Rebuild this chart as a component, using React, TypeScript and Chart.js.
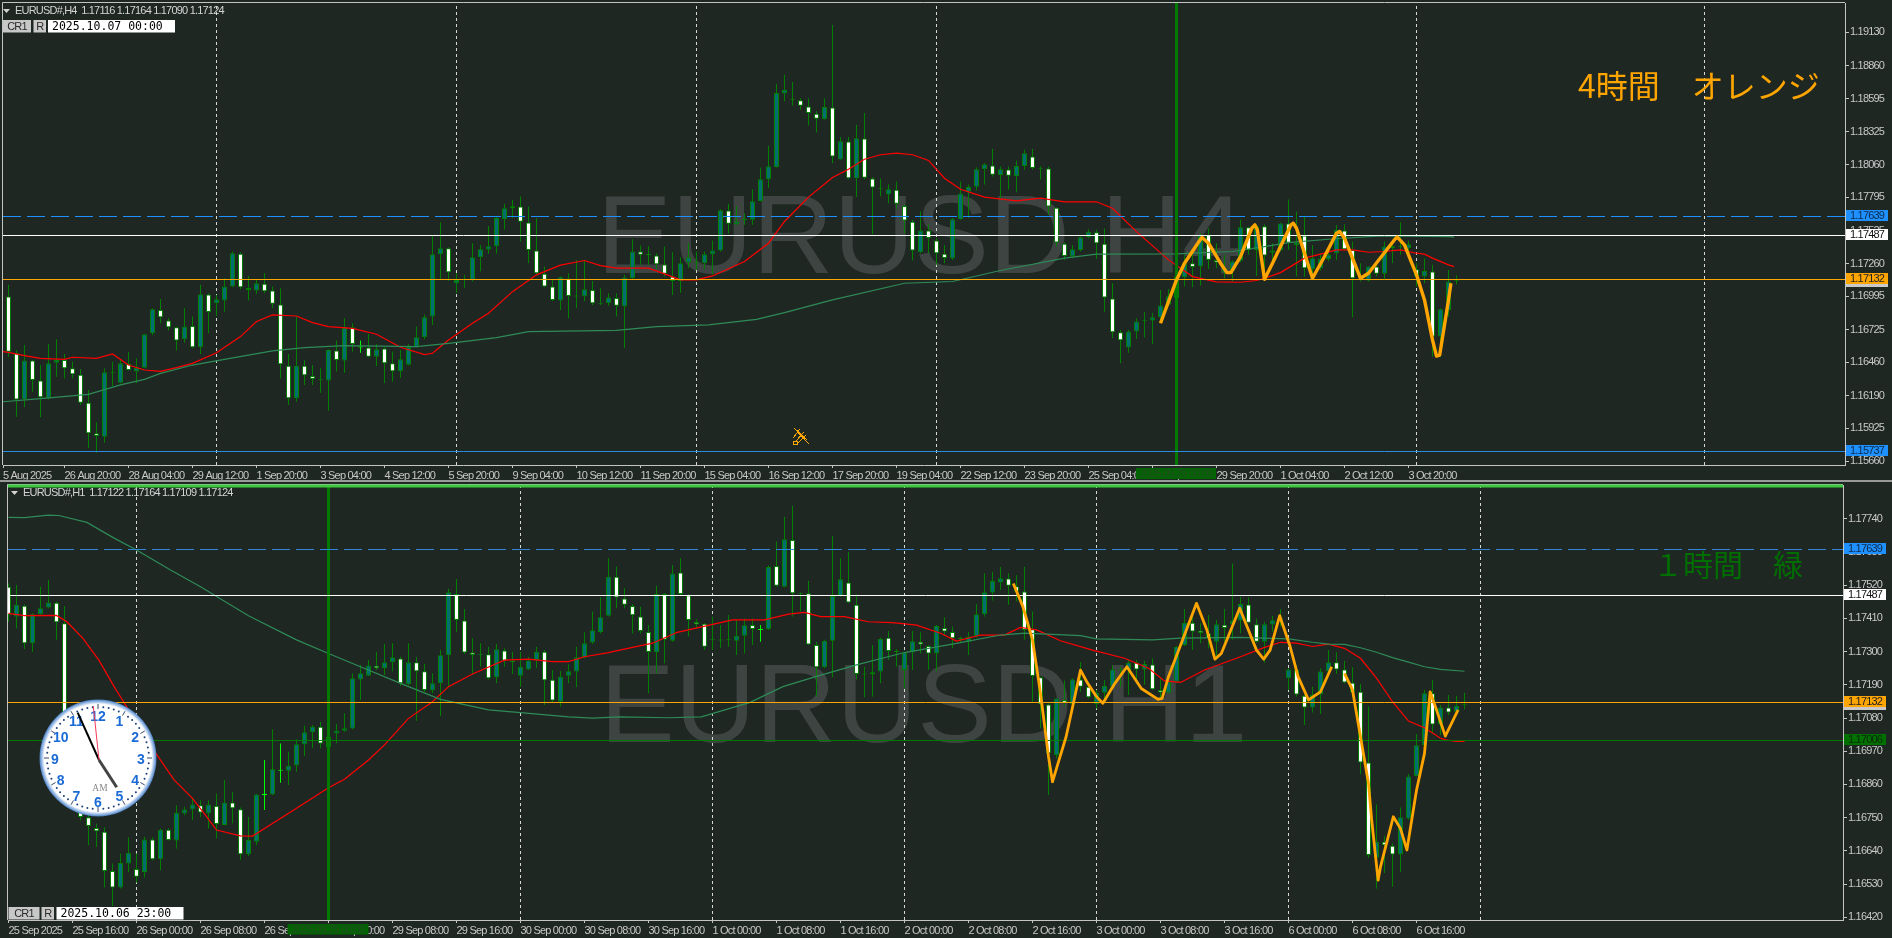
import React, { useEffect, useRef } from "react";
import { Chart, registerables } from "chart.js";
Chart.register(...registerables);

const h4Open = [1.16992,1.16533,1.16160,1.16474,1.16312,1.16170,1.16457,1.16479,1.16411,1.16360,
1.16133,1.15885,1.15858,1.16376,1.16295,1.16447,1.16385,1.16417,1.16695,1.16884,
1.16798,1.16744,1.16646,1.16754,1.16582,1.17008,1.16938,1.16960,1.17073,1.17338,
1.17062,1.17041,1.17095,1.17041,1.16927,1.16433,1.16169,1.16433,1.16349,1.16314,
1.16312,1.16555,1.16474,1.16744,1.16580,1.16579,1.16506,1.16571,1.16452,1.16387,
1.16441,1.16587,1.16663,1.16830,1.17335,1.17384,1.17100,1.17127,1.17127,1.17311,
1.17373,1.17400,1.17618,1.17707,1.17721,1.17591,1.17365,1.17176,1.17073,1.16960,
1.17138,1.16992,1.16995,1.17046,1.16930,1.16938,1.16981,1.16911,1.17141,1.17357,
1.17328,1.17324,1.17251,1.17154,1.17119,1.17268,1.17262,1.17262,1.17335,1.17365,
1.17689,1.17578,1.17611,1.17613,1.17764,1.17942,1.18040,1.18636,1.18593,1.18580,
1.18531,1.18472,1.18428,1.18523,1.18102,1.18247,1.17950,1.18272,1.17948,1.17865,
1.17821,1.17856,1.17726,1.17597,1.17351,1.17527,1.17446,1.17338,1.17300,1.17618,
1.17840,1.17880,1.18023,1.18053,1.17975,1.18021,1.17967,1.18048,1.18126,1.18027,
1.18029,1.17710,1.17419,1.17316,1.17370,1.17473,1.17513,1.17419,1.16976,1.16703,
1.16579,1.16709,1.16792,1.16798,1.16825,1.16925,1.16981,1.17149,1.17262,1.17235,
1.17491,1.17289,1.17186,1.17203,1.17281,1.17554,1.17370,1.17562,1.17346,1.17365,
1.17584,1.17410,1.17486,1.17216,1.17222,1.17297,1.17343,1.17527,1.17370,1.17138,
1.17122,1.17235,1.17176,1.17384,1.17392,1.17384,1.17214,1.17154,1.17195,1.16668,
1.16884,1.17116];
const h4High = [1.17087,1.16560,1.16600,1.16479,1.16438,1.16609,1.16646,1.16528,1.16465,1.16406,
1.16236,1.15974,1.16411,1.16465,1.16484,1.16546,1.16492,1.16690,1.16897,1.16973,
1.16816,1.16749,1.16897,1.16830,1.17087,1.17019,1.17005,1.17140,1.17357,1.17348,
1.17159,1.17127,1.17181,1.17073,1.17060,1.16528,1.16830,1.16479,1.16438,1.16411,
1.16565,1.16636,1.16816,1.16776,1.16636,1.16690,1.16609,1.16582,1.16546,1.16560,
1.16609,1.16749,1.16844,1.17483,1.17594,1.17392,1.17181,1.17168,1.17424,1.17410,
1.17564,1.17640,1.17743,1.17775,1.17802,1.17721,1.17627,1.17235,1.17132,1.17154,
1.17181,1.17289,1.17289,1.17119,1.17060,1.17019,1.17019,1.17168,1.17456,1.17405,
1.17400,1.17343,1.17397,1.17351,1.17311,1.17424,1.17357,1.17357,1.17445,1.17699,
1.17743,1.17726,1.17667,1.17861,1.18034,1.18212,1.18715,1.18788,1.18728,1.18598,
1.18598,1.18491,1.18598,1.19192,1.18283,1.18283,1.18382,1.18477,1.17959,1.17948,
1.17902,1.17923,1.17735,1.17613,1.17683,1.17578,1.17465,1.17410,1.17627,1.17923,
1.17899,1.18037,1.18072,1.18188,1.18045,1.18045,1.18094,1.18180,1.18188,1.18045,
1.18045,1.17716,1.17429,1.17410,1.17478,1.17537,1.17532,1.17543,1.17100,1.16722,
1.16722,1.16816,1.16870,1.16862,1.17046,1.17054,1.17195,1.17330,1.17330,1.17505,
1.17545,1.17424,1.17330,1.17284,1.17616,1.17559,1.17575,1.17575,1.17424,1.17589,
1.17778,1.17680,1.17640,1.17410,1.17343,1.17400,1.17572,1.17578,1.17437,1.17262,
1.17240,1.17278,1.17437,1.17408,1.17594,1.17445,1.17262,1.17303,1.17249,1.16897,
1.17208,1.17164];
const h4Low = [1.16506,1.16020,1.16096,1.16222,1.16015,1.16160,1.16344,1.16330,1.16330,1.16115,
1.15764,1.15728,1.15809,1.16268,1.16290,1.16393,1.16290,1.16411,1.16681,1.16776,
1.16717,1.16555,1.16619,1.16573,1.16528,1.16695,1.16835,1.16870,1.17068,1.17051,
1.16960,1.17014,1.17019,1.16897,1.16330,1.16115,1.16141,1.16277,1.16277,1.16214,
1.16069,1.16385,1.16376,1.16546,1.16538,1.16500,1.16430,1.16290,1.16303,1.16336,
1.16435,1.16582,1.16646,1.16763,1.17132,1.17121,1.17024,1.17060,1.17114,1.17195,
1.17338,1.17338,1.17532,1.17627,1.17437,1.17262,1.17168,1.17068,1.16957,1.16884,
1.16816,1.16897,1.16954,1.16924,1.16924,1.16917,1.16830,1.16573,1.17132,1.17249,
1.17249,1.17213,1.17154,1.17005,1.17024,1.17222,1.17208,1.17213,1.17168,1.17357,
1.17502,1.17573,1.17573,1.17573,1.17762,1.17869,1.18034,1.18572,1.18536,1.18504,
1.18377,1.18320,1.18423,1.18072,1.18099,1.17942,1.17797,1.17942,1.17497,1.17802,
1.17748,1.17700,1.17505,1.17284,1.17343,1.17343,1.17249,1.17262,1.17289,1.17613,
1.17627,1.17853,1.17899,1.17964,1.17775,1.17856,1.17837,1.18018,1.18018,1.17940,
1.17654,1.17397,1.17289,1.17303,1.17357,1.17465,1.17297,1.16870,1.16654,1.16452,
1.16538,1.16649,1.16660,1.16609,1.16790,1.16914,1.16976,1.17073,1.17068,1.17081,
1.17216,1.17222,1.17140,1.17114,1.17270,1.17330,1.17159,1.17154,1.17265,1.17357,
1.17370,1.17154,1.17151,1.17127,1.17203,1.17278,1.17289,1.17370,1.16825,1.17114,
1.17114,1.17154,1.17132,1.17262,1.17330,1.17343,1.17073,1.17100,1.16506,1.16506,
1.16830,1.17090];
const h4Close = [1.16546,1.16160,1.16474,1.16317,1.16177,1.16452,1.16479,1.16411,1.16363,1.16133,
1.15885,1.15863,1.16379,1.16379,1.16452,1.16398,1.16417,1.16687,1.16889,1.16825,
1.16744,1.16636,1.16749,1.16582,1.17011,1.16868,1.16970,1.17073,1.17343,1.17068,
1.17046,1.17100,1.17035,1.16933,1.16444,1.16169,1.16433,1.16355,1.16325,1.16322,
1.16560,1.16479,1.16738,1.16609,1.16584,1.16506,1.16565,1.16452,1.16387,1.16484,
1.16587,1.16663,1.16825,1.17335,1.17384,1.17189,1.17127,1.17130,1.17311,1.17375,
1.17400,1.17627,1.17707,1.17724,1.17597,1.17370,1.17181,1.17073,1.16965,1.17149,
1.16997,1.16995,1.17051,1.16938,1.16938,1.16984,1.16917,1.17146,1.17357,1.17330,
1.17332,1.17254,1.17176,1.17119,1.17262,1.17311,1.17266,1.17335,1.17365,1.17691,
1.17581,1.17600,1.17615,1.17764,1.17942,1.18047,1.18639,1.18663,1.18585,1.18536,
1.18477,1.18431,1.18526,1.18126,1.18250,1.17950,1.18274,1.17953,1.17875,1.17869,
1.17861,1.17743,1.17607,1.17365,1.17527,1.17467,1.17343,1.17305,1.17618,1.17826,
1.17878,1.18023,1.18064,1.17978,1.18023,1.17970,1.18048,1.18153,1.18032,1.18031,
1.17721,1.17429,1.17321,1.17375,1.17473,1.17516,1.17424,1.16984,1.16703,1.16638,
1.16709,1.16790,1.16796,1.16825,1.16919,1.16995,1.17154,1.17262,1.17232,1.17491,
1.17289,1.17268,1.17222,1.17276,1.17554,1.17370,1.17562,1.17324,1.17365,1.17584,
1.17427,1.17429,1.17222,1.17303,1.17297,1.17332,1.17532,1.17376,1.17140,1.17149,
1.17235,1.17176,1.17397,1.17400,1.17400,1.17416,1.17154,1.17200,1.16668,1.16889,
1.17114,1.17124];
const h4LimeBars = [44];

const h4RedBars = [-0.7,0,2,4,7,8,11,13,15,17,19,21,23,26,29,31,33,36,38,40,43,46,49,52,53,55,58,60,63,66,69,72,74,76,80,82,84,86,88,92,95,97,100,103,105,107,109,111,113,115,117,119,122,126,129,132,136,138,141,145,148,151,154,156,157,159,162,164,166,168,170,172,174,176,177,178,180,180.7];
const h4RedValues = [1.16546,1.16541,1.16514,1.16492,1.16484,1.16501,1.16492,1.16528,1.16438,1.16398,1.16387,1.16417,1.16452,1.16538,1.16668,1.16790,1.16844,1.16835,1.16781,1.16749,1.16735,1.16687,1.16582,1.16522,1.16533,1.16641,1.16776,1.16857,1.17032,1.17168,1.17246,1.17284,1.17243,1.17222,1.17222,1.17176,1.17127,1.17127,1.17159,1.17276,1.17424,1.17600,1.17797,1.17956,1.18023,1.18104,1.18140,1.18153,1.18140,1.18094,1.17950,1.17861,1.17797,1.17767,1.17788,1.17759,1.17759,1.17707,1.17518,1.17289,1.17154,1.17111,1.17108,1.17122,1.17140,1.17186,1.17303,1.17335,1.17370,1.17370,1.17351,1.17357,1.17370,1.17343,1.17335,1.17303,1.17249,1.17235];
const h4GreenBars = [-0.7,4,10,14,17,19,23,27,33,37,42,51,55,61,65,76,81,87.5,93.5,97,103,112,118,124,132,136,146,148,153,157,160,165,170,172,180,180.7];
const h4GreenValues = [1.16141,1.16166,1.16201,1.16277,1.16322,1.16371,1.16438,1.16484,1.16552,1.16579,1.16595,1.16587,1.16614,1.16660,1.16708,1.16719,1.16749,1.16763,1.16808,1.16862,1.16965,1.17100,1.17114,1.17203,1.17303,1.17335,1.17338,1.17343,1.17357,1.17397,1.17429,1.17456,1.17478,1.17483,1.17478,1.17473];
const h4ZigzagBars = [144,146,147,149,149.2,150,151.5,152.3,152.8,154,155.4,155.8,156.1,157,158,159,160.3,160.6,161,163,164.5,166,166.4,167,169,170,173.3,173.6,174.5,176,177,178,178.5,178.9,180,180.3];
const h4ZigzagValues = [1.16776,1.17127,1.17262,1.17456,1.17470,1.17424,1.17262,1.17186,1.17186,1.17316,1.17545,1.17572,1.17532,1.17132,1.17262,1.17397,1.17572,1.17586,1.17545,1.17140,1.17316,1.17505,1.17519,1.17465,1.17140,1.17181,1.17456,1.17473,1.17410,1.17168,1.16965,1.16641,1.16511,1.16519,1.16965,1.17100];

const h1Open = [1.17515,1.17416,1.17452,1.17328,1.17424,1.17446,1.17462,1.17394,1.17018,1.16841,
1.16751,1.16716,1.16703,1.16573,1.16519,1.16598,1.16580,1.16570,1.16678,1.16612,
1.16710,1.16674,1.16764,1.16777,1.16791,1.16764,1.16789,1.16726,1.16800,1.16778,
1.16629,1.16670,1.16825,1.16827,1.16905,1.16905,1.16923,1.16993,1.17033,1.17051,
1.16983,1.17029,1.17038,1.17045,1.17208,1.17220,1.17253,1.17245,1.17265,1.17277,
1.17192,1.17265,1.17235,1.17171,1.17195,1.17288,1.17491,1.17403,1.17297,1.17288,
1.17291,1.17214,1.17304,1.17270,1.17220,1.17241,1.17272,1.17300,1.17207,1.17134,
1.17220,1.17234,1.17281,1.17330,1.17365,1.17419,1.17548,1.17476,1.17451,1.17416,
1.17365,1.17298,1.17491,1.17336,1.17562,1.17487,1.17398,1.17392,1.17339,1.17337,
1.17339,1.17336,1.17353,1.17388,1.17372,1.17374,1.17584,1.17515,1.17670,1.17492,
1.17493,1.17322,1.17248,1.17336,1.17484,1.17529,1.17455,1.17224,1.17225,1.17234,
1.17346,1.17299,1.17239,1.17298,1.17333,1.17319,1.17294,1.17378,1.17365,1.17342,
1.17333,1.17350,1.17424,1.17496,1.17529,1.17542,1.17517,1.17499,1.17374,1.17215,
1.17125,1.16957,1.17140,1.17126,1.17208,1.17184,1.17126,1.17164,1.17184,1.17238,
1.17239,1.17264,1.17241,1.17257,1.17173,1.17164,1.17200,1.17322,1.17396,1.17369,
1.17361,1.17333,1.17389,1.17391,1.17403,1.17456,1.17391,1.17333,1.17390,1.17409,
1.17212,1.17239,1.17154,1.17115,1.17158,1.17234,1.17265,1.17241,1.17197,1.17167,
1.16933,1.16617,1.16670,1.16657,1.16628,1.16747,1.16888,1.16990,1.17162,1.17059,
1.17115,1.17101,1.17122];
const h1High = [1.17526,1.17521,1.17455,1.17427,1.17515,1.17538,1.17466,1.17451,1.17024,1.16852,
1.16775,1.16731,1.16718,1.16598,1.16631,1.16685,1.16631,1.16687,1.16685,1.16714,
1.16714,1.16791,1.16786,1.16814,1.16808,1.16808,1.16830,1.16875,1.16836,1.16784,
1.16753,1.16828,1.16941,1.17043,1.16996,1.16968,1.17010,1.17055,1.17057,1.17068,
1.17062,1.17060,1.17096,1.17228,1.17256,1.17272,1.17300,1.17325,1.17328,1.17283,
1.17328,1.17283,1.17259,1.17228,1.17305,1.17508,1.17541,1.17441,1.17344,1.17328,
1.17316,1.17325,1.17311,1.17300,1.17300,1.17283,1.17316,1.17305,1.17239,1.17236,
1.17258,1.17316,1.17364,1.17433,1.17480,1.17609,1.17582,1.17510,1.17457,1.17449,
1.17388,1.17518,1.17493,1.17587,1.17609,1.17491,1.17407,1.17394,1.17416,1.17388,
1.17421,1.17405,1.17410,1.17410,1.17388,1.17585,1.17665,1.17747,1.17783,1.17496,
1.17535,1.17333,1.17339,1.17683,1.17609,1.17631,1.17491,1.17250,1.17322,1.17346,
1.17368,1.17309,1.17300,1.17368,1.17364,1.17322,1.17388,1.17414,1.17383,1.17350,
1.17366,1.17458,1.17560,1.17565,1.17580,1.17560,1.17553,1.17581,1.17433,1.17217,
1.17129,1.17145,1.17204,1.17212,1.17266,1.17200,1.17173,1.17206,1.17256,1.17250,
1.17272,1.17272,1.17270,1.17278,1.17212,1.17217,1.17319,1.17441,1.17427,1.17394,
1.17421,1.17405,1.17442,1.17592,1.17482,1.17480,1.17410,1.17399,1.17418,1.17441,
1.17245,1.17256,1.17156,1.17184,1.17245,1.17305,1.17298,1.17270,1.17248,1.17193,
1.17118,1.16794,1.16690,1.16665,1.16784,1.16895,1.17027,1.17173,1.17206,1.17123,
1.17156,1.17153,1.17164];
const h1Low = [1.17399,1.17377,1.17309,1.17300,1.17421,1.17444,1.17339,1.17007,1.16830,1.16741,
1.16659,1.16653,1.16519,1.16457,1.16515,1.16570,1.16535,1.16551,1.16609,1.16576,
1.16674,1.16648,1.16758,1.16742,1.16751,1.16714,1.16681,1.16725,1.16731,1.16611,
1.16623,1.16659,1.16775,1.16825,1.16866,1.16858,1.16902,1.16954,1.16980,1.16980,
1.16974,1.16996,1.17035,1.17043,1.17140,1.17219,1.17239,1.17223,1.17234,1.17186,
1.17189,1.17071,1.17167,1.17162,1.17087,1.17184,1.17364,1.17292,1.17226,1.17250,
1.17208,1.17195,1.17250,1.17226,1.17184,1.17239,1.17245,1.17123,1.17132,1.17118,
1.17195,1.17182,1.17278,1.17325,1.17360,1.17416,1.17444,1.17444,1.17360,1.17360,
1.17162,1.17228,1.17261,1.17333,1.17488,1.17350,1.17377,1.17305,1.17305,1.17311,
1.17316,1.17289,1.17294,1.17322,1.17333,1.17372,1.17515,1.17513,1.17416,1.17433,
1.17322,1.17151,1.17245,1.17215,1.17482,1.17460,1.17208,1.17149,1.17151,1.17195,
1.17272,1.17250,1.17178,1.17239,1.17294,1.17239,1.17234,1.17353,1.17311,1.17331,
1.17289,1.17346,1.17416,1.17469,1.17504,1.17455,1.17466,1.17339,1.17134,1.17046,
1.16825,1.16946,1.17118,1.17118,1.17167,1.17145,1.17112,1.17134,1.17182,1.17184,
1.17156,1.17206,1.17190,1.17173,1.17140,1.17162,1.17197,1.17319,1.17305,1.17328,
1.17311,1.17283,1.17333,1.17339,1.17361,1.17394,1.17330,1.17263,1.17366,1.17383,
1.17173,1.17151,1.17057,1.17098,1.17093,1.17231,1.17226,1.17195,1.17162,1.16894,
1.16617,1.16515,1.16567,1.16521,1.16570,1.16742,1.16886,1.16985,1.17029,1.17024,
1.17090,1.17093,1.17109];
const h1Close = [1.17421,1.17455,1.17328,1.17424,1.17444,1.17463,1.17397,1.17018,1.16841,1.16752,
1.16722,1.16705,1.16573,1.16519,1.16600,1.16634,1.16554,1.16678,1.16612,1.16710,
1.16676,1.16766,1.16777,1.16794,1.16767,1.16794,1.16729,1.16800,1.16781,1.16629,
1.16676,1.16827,1.16829,1.16910,1.16909,1.16922,1.16993,1.17033,1.17052,1.16996,
1.17018,1.17038,1.17046,1.17212,1.17228,1.17254,1.17245,1.17265,1.17281,1.17195,
1.17265,1.17235,1.17173,1.17195,1.17288,1.17497,1.17405,1.17297,1.17289,1.17290,
1.17212,1.17308,1.17270,1.17265,1.17250,1.17271,1.17300,1.17205,1.17138,1.17217,
1.17235,1.17281,1.17328,1.17371,1.17414,1.17548,1.17479,1.17455,1.17421,1.17368,
1.17299,1.17491,1.17339,1.17559,1.17491,1.17405,1.17391,1.17316,1.17341,1.17339,
1.17341,1.17353,1.17387,1.17375,1.17375,1.17580,1.17518,1.17672,1.17493,1.17494,
1.17324,1.17248,1.17336,1.17484,1.17540,1.17463,1.17226,1.17226,1.17232,1.17343,
1.17302,1.17301,1.17297,1.17334,1.17324,1.17294,1.17385,1.17367,1.17344,1.17344,
1.17350,1.17424,1.17497,1.17534,1.17543,1.17518,1.17499,1.17372,1.17219,1.17126,
1.16963,1.17145,1.17131,1.17208,1.17184,1.17149,1.17164,1.17186,1.17241,1.17240,
1.17264,1.17241,1.17259,1.17175,1.17165,1.17200,1.17316,1.17396,1.17367,1.17362,
1.17344,1.17391,1.17378,1.17403,1.17458,1.17396,1.17333,1.17391,1.17404,1.17411,
1.17241,1.17158,1.17115,1.17158,1.17234,1.17265,1.17241,1.17198,1.17165,1.16933,
1.16626,1.16670,1.16659,1.16628,1.16751,1.16886,1.16990,1.17162,1.17059,1.17115,
1.17098,1.17121,1.17124];
const h1LimeBars = [32,34,94];

const h1RedBars = [0,2,6,7.3,9.3,11.3,13.2,14.5,18.7,20.7,23,24.6,26,29,30.5,33,36,40,42,45,47,50,53,55,58,62,65,68,70,72,75,76.4,80.5,83.6,86.5,90.5,94.5,97.5,99.5,101.5,104.5,107.5,110.5,113.5,116.5,118.5,121.5,124.5,126.5,128.5,131.5,135.5,139.5,142.5,144.5,146.5,149.5,154,157,159,161,163,165,167,169,171,173,175,177,179,179.8,181,182];
const h1RedValues = [1.17427,1.17419,1.17420,1.17399,1.17344,1.17272,1.17184,1.17129,1.16952,1.16875,1.16814,1.16759,1.16709,1.16690,1.16689,1.16731,1.16781,1.16849,1.16877,1.16941,1.16991,1.17079,1.17134,1.17184,1.17226,1.17272,1.17275,1.17267,1.17267,1.17283,1.17297,1.17305,1.17328,1.17364,1.17381,1.17405,1.17405,1.17424,1.17430,1.17416,1.17416,1.17399,1.17396,1.17388,1.17361,1.17335,1.17355,1.17355,1.17380,1.17372,1.17336,1.17305,1.17278,1.17245,1.17203,1.17198,1.17239,1.17283,1.17314,1.17331,1.17328,1.17317,1.17325,1.17311,1.17278,1.17212,1.17134,1.17070,1.17048,1.17013,1.17007,1.17003,1.17003];
const h1GreenBars = [0,2,5,6.3,9.8,13.2,16,20.2,24,30,36,40,44,49,54,60,64,70,73,76.4,82.5,86.6,92.7,96.8,100.9,106,112,118,124,127,134,136,143,146.5,154,160,163,165,167,169,171,173,175,177,179,182];
const h1GreenValues = [1.17745,1.17744,1.17752,1.17751,1.17728,1.17676,1.17637,1.17571,1.17515,1.17419,1.17339,1.17294,1.17250,1.17195,1.17142,1.17107,1.17098,1.17084,1.17080,1.17084,1.17081,1.17084,1.17132,1.17184,1.17217,1.17256,1.17297,1.17325,1.17355,1.17361,1.17353,1.17342,1.17339,1.17345,1.17347,1.17342,1.17331,1.17325,1.17324,1.17313,1.17298,1.17280,1.17265,1.17250,1.17241,1.17235];
const h1ZigzagBars = [125.6,126.8,128,129,130,130.5,131,132.2,133.2,134,134.9,136,136.8,138.3,139.8,141.6,143.7,144.2,145,146.6,148.5,149.8,150.8,151.6,153.9,156,156.9,157.7,158.9,160.2,161.2,162.5,164,165.4,166,167,168,169,170,170.4,171.2,171.5,173.1,174,174.8,176,177,177.7,178.5,179.6,181.2];
const h1ZigzagValues = [1.17526,1.17449,1.17339,1.17162,1.16952,1.16869,1.16913,1.17018,1.17140,1.17239,1.17195,1.17151,1.17129,1.17195,1.17250,1.17178,1.17142,1.17145,1.17217,1.17328,1.17460,1.17372,1.17275,1.17294,1.17444,1.17305,1.17275,1.17305,1.17419,1.17317,1.17217,1.17140,1.17167,1.17250,null,1.17228,1.17173,1.17018,1.16863,1.16742,1.16543,1.16587,1.16753,1.16714,1.16643,1.16841,1.16963,1.17167,1.17107,1.17020,1.17107];

const h4PriceTicks = [1.1913,1.1886,1.18595,1.18325,1.1806,1.17795,1.17525,1.1726,1.16995,1.16725,1.1646,1.1619,1.15925,1.1566];
const h1PriceTicks = [1.1774,1.1763,1.1752,1.1741,1.173,1.1719,1.1708,1.1697,1.1686,1.1675,1.1664,1.1653,1.1642];
const h4TimeTickBars = [-0.6875,7,15,23,31,39,47,55,63,71,79,87,95,103,111,119,127,135,143,151,159,167,175];
const h4TimeLabels = ["5 Aug 2025","26 Aug 20:00","28 Aug 04:00","29 Aug 12:00","1 Sep 20:00","3 Sep 04:00","4 Sep 12:00","5 Sep 20:00","9 Sep 04:00","10 Sep 12:00","11 Sep 20:00","15 Sep 04:00","16 Sep 12:00","17 Sep 20:00","19 Sep 04:00","22 Sep 12:00","23 Sep 20:00","25 Sep 04:00","26 Sep 12:00","29 Sep 20:00","1 Oct 04:00","2 Oct 12:00","3 Oct 20:00"];
const h1TimeTickBars = [0,8,16,24,32,40,48,56,64,72,80,88,96,104,112,120,128,136,144,152,160,168,176];
const h1TimeLabels = ["25 Sep 2025","25 Sep 16:00","26 Sep 00:00","26 Sep 08:00","26 Sep 16:00","29 Sep 00:00","29 Sep 08:00","29 Sep 16:00","30 Sep 00:00","30 Sep 08:00","30 Sep 16:00","1 Oct 00:00","1 Oct 08:00","1 Oct 16:00","2 Oct 00:00","2 Oct 08:00","2 Oct 16:00","3 Oct 00:00","3 Oct 08:00","3 Oct 16:00","6 Oct 00:00","6 Oct 08:00","6 Oct 16:00"];
const h4SeparatorBars = [26,56,86,116,176,212];
const h1SeparatorBars = [16,64,88,112,136,160,184];
const h4CursorBar = 146;
const h1CursorBar = 40;

const h4Levels = [
  { value: 1.17639, color: "#1e90ff", dash: [18, 6], tag: "#1e90ff", ink: "#0b2a4a" },
  { value: 1.17487, color: "#ffffff", dash: [], tag: "#ffffff", ink: "#111111" },
  { value: 1.17132, color: "#ffa500", dash: [], tag: "#ffa500", ink: "#222222" },
  { value: 1.15737, color: "#2a8be0", dash: [], tag: "#1e90ff", ink: "#0b2a4a" },
];
const h1Levels = [
  { value: 1.17639, color: "#2f86d8", dash: [18, 6], tag: "#1e90ff", ink: "#0b2a4a" },
  { value: 1.17487, color: "#ffffff", dash: [], tag: "#ffffff", ink: "#111111" },
  { value: 1.17132, color: "#ffa500", dash: [], tag: "#ffa500", ink: "#222222" },
  { value: 1.17006, color: "#007a00", dash: [], tag: "#007000", ink: "#0b2a0b" },
];

const BG = "#1f2723";
const AXIS = "#c4c4c4";
const WICK = "#007f00";
const TEAL = "#006f6f";
const LIME = "#00ff00";
const TICK_FONT = "Liberation Sans";
const TICK_SIZE = 11;
const TICK_SPACING = "-0.8px";

type Panel = {
  canvasTop: number; canvasHeight: number; left: number; right: number; plotTop: number; plotBottom: number;
  yMin: number; yMax: number; xMin: number;
  open: number[]; high: number[]; low: number[]; close: number[]; lime: number[];
  red: [number[], number[]]; green: [number[], number[]]; zigzag: [number[], number[]];
  zigzagWidth: number; priceTicks: number[]; tickBars: number[]; tickLabels: string[];
  separators: number[]; cursor: number; levels: typeof h4Levels; watermark: string; wmX: number; wmBase: number; wmSize: number;
  header: string; headerX: number; headerY: number; triX: number;
  btnX: number; btnY: number; crW: number; rX: number; rW: number; dateX: number; dateW: number; dateText: string; btnH: number;
  cursorTag: [number, number, number, number]; note: string; noteColor: string; noteX: number; noteBase: number; noteSize: number; greenBar: boolean;
};

const panels: Panel[] = [
  {
    canvasTop: 0, canvasHeight: 482, left: 3, right: 1845, plotTop: 3, plotBottom: 465,
    yMin: 1.15629, yMax: 1.19368, xMin: -0.6875,
    open: h4Open, high: h4High, low: h4Low, close: h4Close, lime: h4LimeBars,
    red: [h4RedBars, h4RedValues], green: [h4GreenBars, h4GreenValues], zigzag: [h4ZigzagBars, h4ZigzagValues],
    zigzagWidth: 3.4, priceTicks: h4PriceTicks, tickBars: h4TimeTickBars, tickLabels: h4TimeLabels,
    separators: h4SeparatorBars, cursor: h4CursorBar, levels: h4Levels, watermark: "EURUSD H4", wmX: 597, wmBase: 273, wmSize: 112,
    header: "EURUSD#,H4  1.17116 1.17164 1.17090 1.17124", headerX: 15, headerY: 11, triX: 3,
    btnX: 3, btnY: 20, crW: 28, rX: 33.5, rW: 12.5, dateX: 48, dateW: 127, dateText: "2025.10.07 00:00", btnH: 12.5,
    cursorTag: [1136, 468, 80, 11], note: "4時間　オレンジ", noteColor: "#ffa500", noteX: 1578, noteBase: 98, noteSize: 32, greenBar: false,
  },
  {
    canvasTop: 482, canvasHeight: 456, left: 8, right: 1843, plotTop: 485, plotBottom: 920,
    yMin: 1.16411, yMax: 1.17852, xMin: -0.0625,
    open: h1Open, high: h1High, low: h1Low, close: h1Close, lime: h1LimeBars,
    red: [h1RedBars, h1RedValues], green: [h1GreenBars, h1GreenValues], zigzag: [h1ZigzagBars, h1ZigzagValues],
    zigzagWidth: 2.8, priceTicks: h1PriceTicks, tickBars: h1TimeTickBars, tickLabels: h1TimeLabels,
    separators: h1SeparatorBars, cursor: h1CursorBar, levels: h1Levels, watermark: "EURUSD H1", wmX: 600, wmBase: 742, wmSize: 112,
    header: "EURUSD#,H1  1.17122 1.17164 1.17109 1.17124", headerX: 23, headerY: 493, triX: 11,
    btnX: 8.5, btnY: 907, crW: 31, rX: 41.5, rW: 12.5, dateX: 56.5, dateW: 127, dateText: "2025.10.06 23:00", btnH: 12.5,
    cursorTag: [287.5, 924, 81, 10.5], note: "１時間　緑", noteColor: "#006e00", noteX: 1653, noteBase: 576, noteSize: 30, greenBar: true,
  },
];

function zip(pair: [number[], number[]]) {
  return pair[0].map((x, i) => ({ x, y: pair[1][i] }));
}

function panelPlugin(p: Panel) {
  const Y = (v: number) => v - p.canvasTop;
  return {
    id: "panelDecor",
    beforeUpdate(chart: any) {
      chart.ctx.letterSpacing = TICK_SPACING;
    },
    beforeDatasetsDraw(chart: any) {
      const c = chart.ctx;
      c.save();
      c.letterSpacing = "0px";
      c.fillStyle = "#3e4442";
      c.font = `${p.wmSize}px "Liberation Sans"`;
      c.textBaseline = "alphabetic";
      c.textAlign = "left";
      c.fillText(p.watermark, p.wmX, Y(p.wmBase));
      c.restore();
    },
    beforeDatasetDraw(chart: any, args: any) {
      if (chart.data.datasets[args.index].label !== "zigzag") return;
      const c = chart.ctx;
      const a = chart.chartArea;
      const ys = chart.scales.y;
      c.save();
      c.lineWidth = 1;
      p.levels.forEach((l) => {
        const py = Math.floor(ys.getPixelForValue(l.value)) + 0.5;
        c.strokeStyle = l.color;
        c.setLineDash(l.dash);
        c.beginPath();
        c.moveTo(a.left, py);
        c.lineTo(a.right, py);
        c.stroke();
      });
      c.restore();
    },
    afterDraw(chart: any) {
      const c = chart.ctx;
      const a = chart.chartArea;
      const ys = chart.scales.y;
      c.save();
      c.strokeStyle = AXIS;
      c.lineWidth = 1;
      c.beginPath();
      c.moveTo(a.left - 0.5, a.bottom);
      c.lineTo(a.left - 0.5, a.top - 0.5);
      c.lineTo(a.right, a.top - 0.5);
      c.stroke();
      if (p.greenBar) {
        c.fillStyle = "#3cc83c";
        c.fillRect(a.left, a.top - 0.5, a.right - a.left, 3);
      }
      c.textBaseline = "alphabetic";
      c.textAlign = "left";
      c.fillStyle = p.noteColor;
      c.letterSpacing = "0px";
      c.font = `${p.noteSize}px "Noto Sans CJK JP"`;
      c.fillText(p.note, p.noteX, Y(p.noteBase));
      c.letterSpacing = TICK_SPACING;
      c.fillStyle = "#d4d4d4";
      c.beginPath();
      const ty = Y(p.headerY) - 2;
      c.moveTo(p.triX, ty);
      c.lineTo(p.triX + 7, ty);
      c.lineTo(p.triX + 3.5, ty + 4);
      c.closePath();
      c.fill();
      c.font = `${TICK_SIZE}px "${TICK_FONT}"`;
      c.textBaseline = "middle";
      c.fillText(p.header, p.headerX, Y(p.headerY));
      const by = Y(p.btnY);
      c.fillStyle = "#c8c8c8";
      c.fillRect(p.btnX, by, p.crW, p.btnH);
      c.fillRect(p.rX, by, p.rW, p.btnH);
      c.fillStyle = "#ffffff";
      c.fillRect(p.dateX, by, p.dateW, p.btnH);
      c.fillStyle = "#2a2a2a";
      c.textAlign = "center";
      c.fillText("CR1", p.btnX + p.crW / 2, by + p.btnH / 2 + 0.5);
      c.fillText("R", p.rX + p.rW / 2, by + p.btnH / 2 + 0.5);
      c.textAlign = "left";
      c.fillStyle = "#000000";
      c.letterSpacing = "0px";
      c.font = `11.5px "DejaVu Sans Mono"`;
      c.fillText(p.dateText, p.dateX + 4, by + p.btnH / 2 + 0.5);
      c.letterSpacing = TICK_SPACING;
      c.font = `${TICK_SIZE}px "${TICK_FONT}"`;
      p.levels.forEach((l) => {
        const py = Math.floor(ys.getPixelForValue(l.value));
        if (l.value === 1.17132) {
          c.fillStyle = "#c8c8c8";
          c.fillRect(a.right + 1, py - 5, 42, 13);
        }
        c.fillStyle = l.tag;
        c.fillRect(a.right + 1, py - 6, 42, 11);
        c.fillStyle = l.ink;
        c.fillText(l.value.toFixed(5), a.right + 5, py);
      });
      const [tx, tyy, tw, th] = p.cursorTag;
      c.fillStyle = "#006400";
      c.fillRect(tx, Y(tyy), tw, th);
      c.fillStyle = "#264a26";
      c.textAlign = "center";
      c.fillText("2025.09.29 00:00", tx + tw / 2, Y(tyy) + th / 2 + 0.5);
      c.restore();
    },
  };
}

function buildChart(canvas: HTMLCanvasElement, p: Panel) {
  const indices = p.open.map((_, i) => i);
  const isLime = (i: number) => p.lime.includes(i);
  const vertical = (bar: number) => [{ x: bar, y: p.yMin }, { x: bar, y: p.yMax }];
  const datasets: any[] = [
    {
      type: "line", label: "zigzag", order: 0, data: zip(p.zigzag), borderColor: "#ffa500", borderWidth: p.zigzagWidth,
      pointRadius: 0, tension: 0, spanGaps: false, borderJoinStyle: "round",
    },
    {
      type: "line", label: "cursor", order: 1, data: vertical(p.cursor), borderColor: "#007a00", borderWidth: 3, pointRadius: 0,
    },
    {
      type: "line", label: "slow", order: 2, data: zip(p.green), borderColor: "#2e8b57", borderWidth: 1.2, pointRadius: 0, tension: 0,
    },
    {
      type: "line", label: "fast", order: 2, data: zip(p.red), borderColor: "#ff0000", borderWidth: 1.2, pointRadius: 0, tension: 0,
    },
    {
      type: "bar", label: "body", order: 3, grouped: false, barThickness: 5, minBarLength: 1, inflateAmount: 0,
      borderSkipped: false, borderWidth: 1,
      data: indices.map((i) => ({ x: i, y: [p.open[i], p.close[i]] })),
      backgroundColor: indices.map((i) => (p.close[i] >= p.open[i] ? TEAL : "#ffffff")),
      borderColor: indices.map((i) => (isLime(i) ? LIME : WICK)),
    },
    {
      type: "bar", label: "wick", order: 4, grouped: false, barThickness: 1, inflateAmount: 0, borderWidth: 0,
      data: indices.map((i) => ({ x: i, y: [p.low[i], p.high[i]] })),
      backgroundColor: indices.map((i) => (isLime(i) ? LIME : WICK)),
    },
    ...p.separators.map((bar) => ({
      type: "line", label: "separator", order: 5, data: vertical(bar), borderColor: "#d8d8d8", borderWidth: 1,
      borderDash: [3, 3], pointRadius: 0,
    })),
  ];
  const height = p.canvasHeight;
  const bottomPx = p.plotBottom - p.canvasTop;
  const tickFont = { family: TICK_FONT, size: TICK_SIZE };
  return new Chart(canvas, {
    type: "bar",
    data: { datasets },
    plugins: [panelPlugin(p)],
    options: {
      animation: false,
      responsive: false,
      devicePixelRatio: 1,
      events: [],
      layout: { padding: { left: p.left, top: p.plotTop - p.canvasTop, right: 0, bottom: 0 } },
      plugins: { legend: { display: false }, tooltip: { enabled: false } },
      scales: {
        x: {
          type: "linear", min: p.xMin, max: p.xMin + (p.right - p.left) / 8, offset: false,
          grid: { display: true, drawOnChartArea: false, drawTicks: true, tickLength: 3, color: AXIS, offset: false },
          border: { display: true, color: AXIS },
          afterBuildTicks: (s: any) => { s.ticks = p.tickBars.map((value) => ({ value })); },
          afterFit: (s: any) => { s.height = height - bottomPx; s.paddingLeft = 0; s.paddingRight = 0; },
          ticks: {
            color: "#c8c8c8", font: tickFont, align: "start", autoSkip: false, maxRotation: 0, minRotation: 0, padding: 1,
            callback: (_v: any, i: number) => p.tickLabels[i],
          },
        },
        y: {
          type: "linear", position: "right", min: p.yMin, max: p.yMax, beginAtZero: false,
          grid: { display: true, drawOnChartArea: false, drawTicks: true, tickLength: 4, color: AXIS },
          border: { display: true, color: AXIS },
          afterBuildTicks: (s: any) => { s.ticks = p.priceTicks.map((value) => ({ value })); },
          afterFit: (s: any) => { s.width = 1892 - p.right; s.paddingTop = 0; s.paddingBottom = 0; },
          ticks: {
            color: "#c8c8c8", font: tickFont, autoSkip: false, padding: 1,
            callback: (v: any) => Number(v).toFixed(5),
          },
        },
      },
    } as any,
  } as any);
}

const clockHours = [1, 2, 3, 4, 5, 6, 7, 8, 9, 10, 11, 12];
const clockMinutes = Array.from({ length: 60 }, (_, i) => i);

function Clock() {
  const cx = 64, cy = 64;
  const hx = cx + 1, hy = cy + 2;
  return (
    <svg width={130} height={130} style={{ position: "absolute", left: 34, top: 694 }}>
      <defs>
        <radialGradient id="ring" cx="50%" cy="50%" r="50%">
          <stop offset="92%" stopColor="#ffffff" />
          <stop offset="95%" stopColor="#b7cfee" />
          <stop offset="100%" stopColor="#4a80c6" />
        </radialGradient>
      </defs>
      <circle cx={cx} cy={cy} r={58.5} fill="url(#ring)" />
      {clockMinutes.map((m) => {
        const t = (m / 60) * 2 * Math.PI;
        if (m % 5 === 0) {
          return <line key={m} x1={cx + Math.sin(t) * 49} y1={cy - Math.cos(t) * 49} x2={cx + Math.sin(t) * 54} y2={cy - Math.cos(t) * 54} stroke="#3a4a66" strokeWidth={1} />;
        }
        return <circle key={m} cx={cx + Math.sin(t) * 51} cy={cy - Math.cos(t) * 51} r={1} fill="#1d3f78" />;
      })}
      {clockHours.map((h) => {
        const t = (h / 12) * 2 * Math.PI;
        return (
          <text key={h} x={cx + Math.sin(t) * 43} y={cy - Math.cos(t) * 43 + 5.5} textAnchor="middle" fontFamily="Liberation Sans" fontWeight="bold" fontSize={14} fill="#1b6bd6">
            {h}
          </text>
        );
      })}
      <text x={cx + 2} y={cy + 33} textAnchor="middle" fontFamily="Liberation Serif" fontSize={9.5} fill="#888">AM</text>
      <line x1={hx} y1={hy} x2={hx + 17.7} y2={hy + 27.3} stroke="#444" strokeWidth={3} />
      <line x1={hx} y1={hy} x2={hx - 21.3} y2={hy - 47.3} stroke="#000" strokeWidth={2} />
      <line x1={hx} y1={hy} x2={hx - 5.7} y2={hy - 54} stroke="#f23a5a" strokeWidth={1} />
    </svg>
  );
}

function Pencil() {
  return (
    <svg width={20} height={20} style={{ position: "absolute", left: 792, top: 427 }} stroke="#ffa500" strokeWidth={1} fill="none" shapeRendering="crispEdges">
      <line x1={2} y1={1} x2={17} y2={17} />
      <line x1={5} y1={3} x2={15} y2={13} />
      <line x1={12} y1={5} x2={4} y2={14} />
      <line x1={8} y1={2} x2={1} y2={11} />
      <line x1={14} y1={8} x2={6} y2={16} />
      <rect x={1} y={14} width={4} height={3} />
    </svg>
  );
}

export default function App() {
  const topRef = useRef<HTMLCanvasElement>(null);
  const bottomRef = useRef<HTMLCanvasElement>(null);
  useEffect(() => {
    document.body.style.margin = "0";
    document.body.style.background = BG;
    const a = buildChart(topRef.current!, panels[0]);
    const b = buildChart(bottomRef.current!, panels[1]);
    return () => { a.destroy(); b.destroy(); };
  }, []);
  return (
    <div style={{ position: "absolute", left: 0, top: 0, width: 1892, height: 938, background: BG, overflow: "hidden" }}>
      <canvas ref={topRef} width={1892} height={panels[0].canvasHeight} style={{ position: "absolute", left: 0, top: 0 }} />
      <canvas ref={bottomRef} width={1892} height={panels[1].canvasHeight} style={{ position: "absolute", left: 0, top: panels[1].canvasTop }} />
      <div style={{ position: "absolute", left: 0, top: 480, width: 1892, height: 2, background: "#9a9a9a" }} />
      <Clock />
      <Pencil />
    </div>
  );
}
